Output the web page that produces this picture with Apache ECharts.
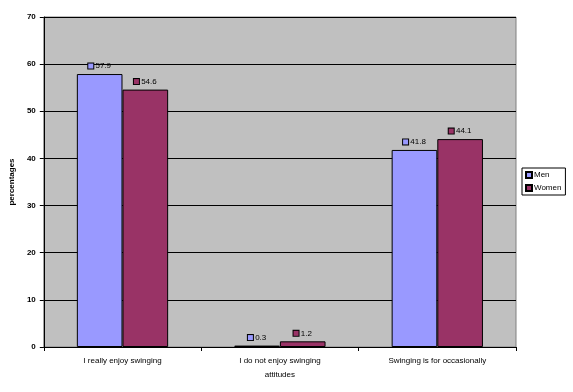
<!DOCTYPE html>
<html><head><meta charset="utf-8">
<script src="https://cdn.jsdelivr.net/npm/echarts@6/dist/echarts.min.js"></script>
<style>html,body{margin:0;padding:0;background:#fff}#c{width:573px;height:392px}</style>
</head><body><div id="c"></div>
<script>
const categories = ["I really enjoy swinging", "I do not enjoy swinging\nattitudes", "Swinging is for occasionally"];
const seriesNames = ["Men", "Women"];
const menValues = [57.9, 0.3, 41.8];
const womenValues = [54.6, 1.2, 44.1];
const colors = ["#9999FF", "#993366"];

const chart = echarts.init(document.getElementById('c'));
function lbl(key) {
  return {
    show: true, position: 'top', distance: 4,
    formatter: p => '{k|}{t| ' + p.value + '}',
    rich: {
      k: {width: 5, height: 5, backgroundColor: colors[key], borderColor: '#000', borderWidth: 1},
      t: {fontSize: 8, color: '#000', fontFamily: 'Liberation Sans'}
    }
  };
}
chart.setOption({
  animation: false,
  textStyle: {fontFamily: 'Liberation Sans'},
  grid: {left: 42, right: 57, top: 17, bottom: 45, show: true, backgroundColor: '#C0C0C0', borderColor: '#808080', borderWidth: 1},
  legend: {
    orient: 'vertical', left: 522, top: 168, data: seriesNames,
    borderColor: '#000', borderWidth: 1, padding: [3, 4, 3, 3],
    itemWidth: 6, itemHeight: 6, itemGap: 5, icon: 'rect',
    textStyle: {fontSize: 8, color: '#000', padding: [0, 0, 0, -3]}
  },
  xAxis: {
    type: 'category', data: categories,
    axisLine: {lineStyle: {color: '#000'}},
    axisTick: {show: true, lineStyle: {color: '#000'}, length: 4},
    axisLabel: {fontSize: 8, color: '#000', margin: 7, lineHeight: 14, interval: 0}
  },
  yAxis: {
    type: 'value', min: 0, max: 70, interval: 10,
    name: 'percentages', nameLocation: 'middle', nameGap: 17, nameRotate: 90,
    nameTextStyle: {fontSize: 8, color: '#000', fontWeight: 'bold'},
    axisLine: {show: true, lineStyle: {color: '#000'}},
    axisTick: {show: true, length: 4, lineStyle: {color: '#000'}},
    axisLabel: {fontSize: 8, color: '#000', fontWeight: 'bold', margin: 8},
    splitLine: {lineStyle: {color: '#000', width: 1}}
  },
  series: [
    {name: 'Men', type: 'bar', data: menValues, barGap: '0%', barCategoryGap: '42%',
     itemStyle: {color: colors[0], borderColor: '#000', borderWidth: 1}, label: lbl(0)},
    {name: 'Women', type: 'bar', data: womenValues,
     itemStyle: {color: colors[1], borderColor: '#000', borderWidth: 1}, label: lbl(1)}
  ]
});
</script></body></html>
